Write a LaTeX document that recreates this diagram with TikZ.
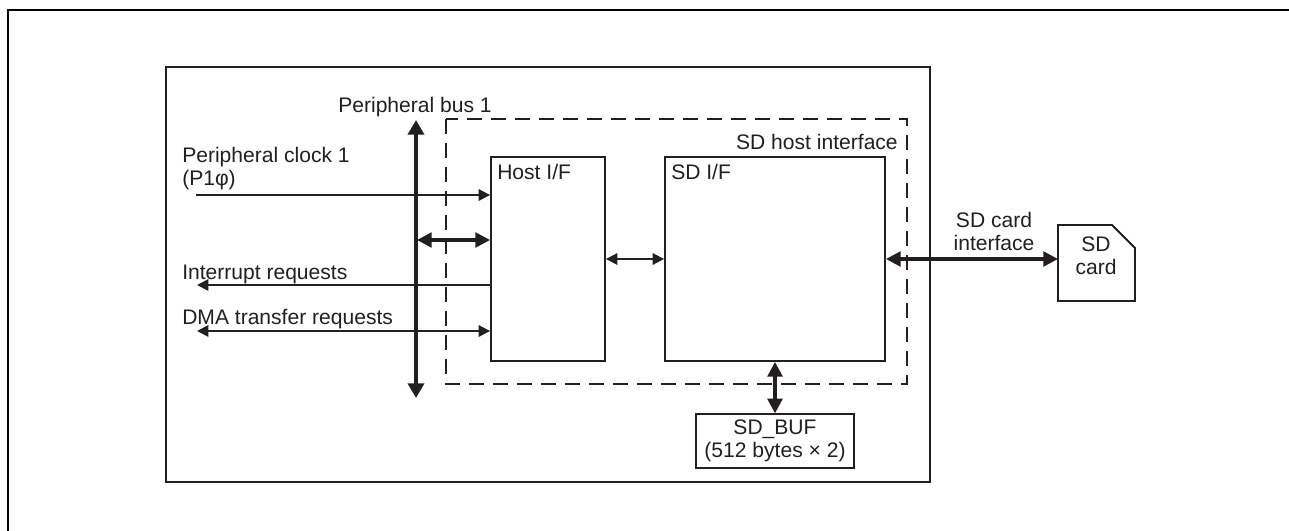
\documentclass[tikz,border=0pt]{standalone}
\usepackage{fontspec}
\setmainfont{Liberation Sans}
\usepackage{xcolor}
\usetikzlibrary{arrows.meta}
\definecolor{ink}{RGB}{35,31,32}
\tikzset{
  blockbox/.style={draw=ink, line width=1.4pt, inner sep=0pt},
  lbl/.style={text=ink, font=\fontsize{15.8}{17.2}\selectfont, inner sep=0pt},
  busthin/.style={draw=ink, line width=1.4pt, {Triangle[length=8.5pt,width=8.5pt]}-{Triangle[length=8.5pt,width=8.5pt]}},
  busthick/.style={draw=ink, line width=2.5pt, {Triangle[length=11pt,width=11pt]}-{Triangle[length=11pt,width=11pt]}},
  busmain/.style={draw=ink, line width=3pt, {Triangle[length=11pt,width=12pt]}-{Triangle[length=11pt,width=12pt]}},
  sigthin/.style={draw=ink, line width=1.4pt, -{Triangle[length=8.5pt,width=8.5pt]}}
}
\begin{document}
\begin{tikzpicture}[x=0.75pt, y=-0.75pt]
  \useasboundingbox (0,0) rectangle (1289,531);
  \draw[black, line width=1.6pt] (8,531) -- (8,10) -- (1289,10);
  \draw[ink, line width=1.4pt] (166,67) rectangle (930,482);
  \draw[ink, line width=1.4pt, dash pattern=on 11.6pt off 6.4pt] (446,119) rectangle (907,384);
  \node[blockbox, minimum width=85.5pt, minimum height=153pt] (host) at (548,259) {};
  \node[blockbox, minimum width=165pt, minimum height=153pt] (sdif) at (775,259) {};
  \node[blockbox, minimum width=119pt, minimum height=40pt] (sdbuf) at (775,441) {};
  \coordinate (cardw) at (1058,259);
  \draw[ink, line width=1.4pt] (1058,225) -- (1112,225) -- (1135,248) -- (1135,301) -- (1058,301) -- cycle;
  \node[lbl, align=center, anchor=north] (buflbl) at (775,420) {SD\_BUF\\(512 bytes × 2)};
  \node[lbl, align=center, anchor=north] (card) at (1096,237) {SD\\card};
  \node[lbl, anchor=base west] (hostlbl) at (497,180) {Host I/F};
  \node[lbl, anchor=base west] (sdlbl) at (671,180) {SD I/F};
  \node[lbl, anchor=base east] (ifacelbl) at (898,150) {SD host interface};
  \node[lbl, anchor=base] (buslbl) at (415,113) {Peripheral bus 1};
  \node[lbl, anchor=north west, align=left] (clocklbl) at (182,147) {Peripheral clock 1\\(P1φ)};
  \node[lbl, anchor=base west] (intlbl) at (182,279) {Interrupt requests};
  \node[lbl, anchor=base west] (dmalbl) at (182,324) {DMA transfer requests};
  \node[lbl, align=center, anchor=north] (cardif) at (994,212) {SD card\\interface};
  \coordinate (bustop) at (416,120);
  \coordinate (busbot) at (416,398);
  \coordinate (clockin) at (196,195);
  \coordinate (busjoin) at (417,240);
  \coordinate (intout) at (197,285);
  \coordinate (dmaout) at (197,331);
  \draw[busmain] (bustop) -- (busbot);
  \draw[sigthin] (clockin) -- (clockin -| host.west);
  \draw[busthick] (busjoin) -- (busjoin -| host.west);
  \draw[sigthin] (intout -| host.west) -- (intout);
  \draw[busthin] (dmaout) -- (dmaout -| host.west);
  \draw[busthin] (host.east) -- (sdif.west);
  \draw[busthick] (sdif.east) -- (cardw);
  \draw[busthick] (sdif.south) -- (sdbuf.north);
\end{tikzpicture}
\end{document}
